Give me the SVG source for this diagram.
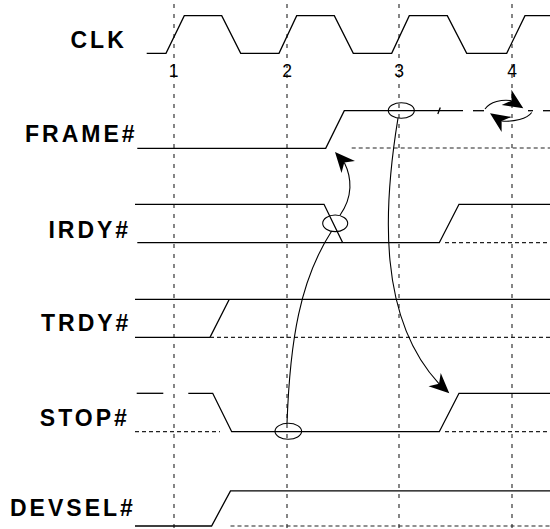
<svg xmlns="http://www.w3.org/2000/svg" xmlns:xlink="http://www.w3.org/1999/xlink" width="550" height="529" viewBox="0 0 550 529">
<style>
.lbl{font-family:"Liberation Sans",Arial,sans-serif;font-weight:bold;font-size:23px;letter-spacing:3px;fill:#000}
.num{font-family:"Liberation Sans",Arial,sans-serif;font-size:17.5px;fill:#000;text-anchor:middle}
.sig{fill:none;stroke:#000;stroke-width:1.3;stroke-linejoin:miter}
.dot{fill:none;stroke:#222;stroke-width:1.2;stroke-dasharray:4 3}
.grid{fill:none;stroke:#222;stroke-width:1.1;stroke-dasharray:4 6}
.con{fill:none;stroke:#000;stroke-width:1.1}
.ell{fill:none;stroke:#000;stroke-width:1.1}
</style>
<defs>
<path id="ah" d="M0,0 L-20,-9 L-14,0 L-20,9 Z" fill="#000"/>
</defs>
<rect width="550" height="529" fill="#fff"/>
<g id="grid">
<line class="grid" x1="174" y1="4" x2="174" y2="529"/>
<line class="grid" x1="287" y1="4" x2="287" y2="529"/>
<line class="grid" x1="399" y1="4" x2="399" y2="529"/>
<line class="grid" x1="512" y1="4" x2="512" y2="529"/>
</g>
<g id="clk">
<text class="lbl" x="70.5" y="48.3">CLK</text>
<polyline class="sig" points="146.7,53.3 166,53.3 184.3,15.7 221.7,15.7 240.7,53.3 279,53.3 296.7,15.7 334.3,15.7 353.3,53.3 391.7,53.3 409.3,15.7 447.3,15.7 466.7,53.3 506.7,53.3 525,15.7 550,15.7"/>
<text class="num" x="173.5" y="76.5">1</text>
<text class="num" x="287" y="76.5">2</text>
<text class="num" x="399" y="76.5">3</text>
<text class="num" x="512" y="76.5">4</text>
</g>
<g id="frame">
<text class="lbl" x="25" y="141.7">FRAME#</text>
<polyline class="sig" points="137.3,148.3 325.7,148.3 344.3,110.7 463,110.7"/>
<line class="sig" x1="437.8" y1="114" x2="440.3" y2="107.5"/>
<line class="sig" x1="473" y1="110.7" x2="484" y2="110.7"/>
<line class="sig" x1="528" y1="110.7" x2="533" y2="110.7"/>
<line class="sig" x1="543" y1="110.7" x2="550" y2="110.7"/>
<line class="dot" x1="351.7" y1="148" x2="550" y2="148"/>
</g>
<g id="irdy">
<text class="lbl" x="48.4" y="238.3">IRDY#</text>
<polyline class="sig" points="135,204.3 324,204.3 342.7,242.7"/>
<polyline class="sig" points="137.3,242.7 439.3,242.7 459,204.3 550,204.3"/>
<line class="dot" x1="445" y1="242.7" x2="550" y2="242.7"/>
</g>
<g id="trdy">
<text class="lbl" x="41" y="330.7">TRDY#</text>
<line class="sig" x1="135" y1="299.3" x2="550" y2="299.3"/>
<polyline class="sig" points="135,337.3 210,337.3 229.3,299.3"/>
<line class="dot" x1="210" y1="337.3" x2="550" y2="337.3"/>
</g>
<g id="stop">
<text class="lbl" x="39.8" y="426">STOP#</text>
<line class="sig" x1="136.7" y1="393.3" x2="163.3" y2="393.3"/>
<polyline class="sig" points="188.3,393.3 212.7,393.3 231.7,431.7 439.3,431.7 459,393.3 550,393.3"/>
<line class="dot" x1="135" y1="431.7" x2="220" y2="431.7"/>
<line class="dot" x1="445" y1="431.7" x2="550" y2="431.7"/>
</g>
<g id="devsel">
<text class="lbl" x="10" y="516">DEVSEL#</text>
<polyline class="sig" points="135,526 211.6,526 230.5,490.9 550,490.9"/>
<line class="dot" x1="230.5" y1="526" x2="550" y2="526"/>
</g>
<g id="connectors">
<ellipse class="ell" cx="401.3" cy="110.5" rx="13" ry="7.8"/>
<ellipse class="ell" cx="335.2" cy="223.3" rx="12.5" ry="8.3"/>
<ellipse class="ell" cx="288.3" cy="431.3" rx="13.3" ry="8"/>
<path class="con" d="M398,118.2 C383,210 378,318 439.1,383.8"/>
<use xlink:href="#ah" transform="translate(449.3,393.3) rotate(42.8)"/>
<path class="con" d="M287,423.3 C290,340 300,280 331.7,231"/>
<path class="con" d="M340,215.2 C353,197 352,178 344.3,162.5"/>
<use xlink:href="#ah" transform="translate(335,152) rotate(228.5)"/>
<path class="con" d="M485,109 C490,102 502,99 511.6,100.7"/>
<use xlink:href="#ah" transform="translate(523.3,108.3) rotate(33)"/>
<path class="con" d="M531.7,112.5 C527,119 514,122 501.6,121"/>
<use xlink:href="#ah" transform="translate(490,113.3) rotate(213.8)"/>
</g>
</svg>
